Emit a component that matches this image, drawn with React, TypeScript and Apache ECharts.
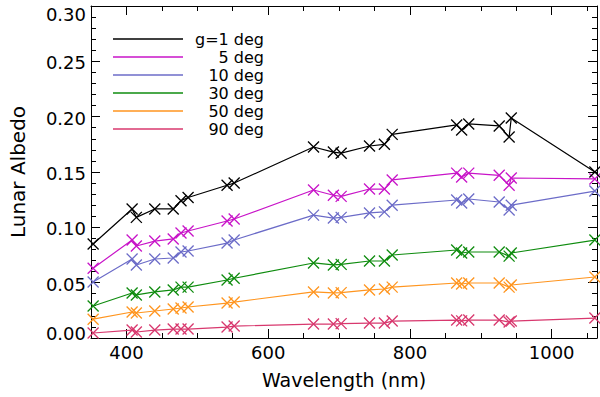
import React, { useEffect, useRef } from 'react';
import * as echarts from 'echarts';

const wavelengths = [353, 408, 414, 440, 466, 477, 487, 542, 552, 664, 692, 703, 743, 764, 775, 866, 873, 883, 926, 940, 943, 1061];

const albedoG1 = [0.085, 0.1166, 0.109, 0.1166, 0.1166, 0.124, 0.127, 0.138, 0.140, 0.1726, 0.168, 0.167, 0.1735, 0.175, 0.184, 0.1925, 0.188, 0.1934, 0.1916, 0.1816, 0.1988, 0.150];
const albedoG5 = [0.063, 0.0886, 0.0831, 0.0876, 0.0895, 0.0949, 0.0967, 0.1057, 0.1075, 0.1337, 0.129, 0.128, 0.1346, 0.1346, 0.1428, 0.149, 0.1455, 0.149, 0.147, 0.138, 0.1446, 0.1437];
const albedoG10 = [0.0506, 0.0714, 0.066, 0.0714, 0.0723, 0.0777, 0.0786, 0.0858, 0.0886, 0.111, 0.1084, 0.109, 0.113, 0.114, 0.120, 0.1247, 0.122, 0.1256, 0.1229, 0.1157, 0.120, 0.1328];
const albedoG30 = [0.0289, 0.0407, 0.0389, 0.0416, 0.0434, 0.046, 0.046, 0.0524, 0.054, 0.0678, 0.066, 0.0665, 0.0696, 0.0696, 0.075, 0.0795, 0.0768, 0.0777, 0.0777, 0.074, 0.0768, 0.0885];
const albedoG50 = [0.017, 0.0235, 0.0226, 0.0244, 0.0262, 0.0271, 0.028, 0.0316, 0.0325, 0.0416, 0.0407, 0.041, 0.0434, 0.0443, 0.046, 0.0497, 0.0488, 0.0497, 0.0497, 0.046, 0.0479, 0.0551];
const albedoG90 = [0.0045, 0.0072, 0.0054, 0.0072, 0.0081, 0.0081, 0.0081, 0.0099, 0.0108, 0.0126, 0.0126, 0.013, 0.0135, 0.0135, 0.0153, 0.0162, 0.0155, 0.0162, 0.0162, 0.0144, 0.0153, 0.018];

const seriesNames = ['g=1 deg', '5 deg', '10 deg', '30 deg', '50 deg', '90 deg'];
const seriesValues = [albedoG1, albedoG5, albedoG10, albedoG30, albedoG50, albedoG90];
const seriesColors = ['#000000', '#c814c8', '#6c6cc8', '#0f8c0f', '#ff951f', '#d8386e'];

const xTitle = 'Wavelength (nm)';
const yTitle = 'Lunar Albedo';

const FONT = 'DejaVu Sans';

export default function App() {
  const ref = useRef<HTMLDivElement>(null);
  useEffect(() => {
    document.body.style.margin = '0';
    const chart = echarts.init(ref.current!, null, { renderer: 'svg' });

    const axisLine = { show: true, onZero: false, lineStyle: { color: '#000', width: 1 } };
    const xBase: any = {
      type: 'value',
      min: 350,
      max: 1064,
      splitNumber: 4,
      minInterval: 200,
      maxInterval: 200,
      axisLine,
      axisTick: { show: true, inside: true, length: 9, lineStyle: { color: '#000', width: 1 } },
      minorTick: { show: true, splitNumber: 4, length: 5, lineStyle: { color: '#000', width: 1 } },
      splitLine: { show: false },
      minorSplitLine: { show: false },
    };
    const yBase: any = {
      type: 'value',
      min: 0,
      max: 0.3,
      interval: 0.05,
      axisLine,
      axisTick: { show: true, inside: true, length: 9, lineStyle: { color: '#000', width: 1 } },
      minorTick: { show: true, splitNumber: 5, length: 5, lineStyle: { color: '#000', width: 1 } },
      splitLine: { show: false },
      minorSplitLine: { show: false },
    };
    const labelFont = { fontFamily: FONT, fontSize: 18, color: '#000' };

    const symbol = 'path://M0,0L10,10M0,10L10,0';

    const option: any = {
      animation: false,
      backgroundColor: '#ffffff',
      grid: { left: 85, right: 3, top: 6, bottom: 59, containLabel: false },
      xAxis: [
        {
          ...xBase,
          position: 'bottom',
          name: xTitle,
          nameLocation: 'middle',
          nameGap: 32,
          nameTextStyle: { fontFamily: FONT, fontSize: 19, color: '#000' },
          axisLabel: {
            show: true,
            margin: 5,
            ...labelFont,
            formatter: (v: number) => (Math.abs(v % 200) < 1e-6 ? String(Math.round(v)) : ''),
          },
        },
        { ...xBase, position: 'top', axisLabel: { show: false } },
      ],
      yAxis: [
        {
          ...yBase,
          position: 'left',
          name: yTitle,
          nameLocation: 'middle',
          nameGap: 63,
          nameTextStyle: { fontFamily: FONT, fontSize: 20, color: '#000' },
          axisLabel: {
            show: true,
            margin: 5,
            ...labelFont,
            formatter: (v: number) => {
              const s = v.toFixed(2);
              if (Math.abs(v - 0.3) < 1e-6) return `{t|${s}}`;
              if (Math.abs(v) < 1e-6) return `{b|${s}}`;
              return `{n|${s}}`;
            },
            rich: {
              t: { ...labelFont, padding: [16, 0, 0, 0] },
              b: { ...labelFont, padding: [0, 0, 10, 0] },
              n: { ...labelFont, padding: [3, 0, 0, 0] },
            },
          },
        },
        { ...yBase, position: 'right', axisLabel: { show: false } },
      ],
      legend: {
        show: true,
        orient: 'vertical',
        left: 113,
        top: 31,
        padding: 0,
        itemGap: 2,
        itemWidth: 70,
        itemHeight: 1.5,
        icon: 'rect',
        itemStyle: { borderWidth: 0 },
        data: seriesNames,
        formatter: (name: string) => `{a|${name}}`,
        textStyle: {
          fontFamily: FONT,
          fontSize: 16,
          lineHeight: 16,
          rich: {
            a: { width: 76, align: 'right', fontFamily: FONT, fontSize: 16, color: '#000', lineHeight: 16 },
          },
        },
        textGap: 5,
        selectedMode: false,
      },
      series: seriesNames.map((name, i) => ({
        name,
        type: 'line',
        xAxisIndex: 0,
        yAxisIndex: 0,
        data: wavelengths.map((w, j) => [w, seriesValues[i][j]]),
        symbol,
        symbolSize: 11,
        showSymbol: true,
        lineStyle: { color: seriesColors[i], width: 1.2 },
        itemStyle: { color: seriesColors[i], borderColor: seriesColors[i], borderWidth: 1.3 },
        emphasis: { disabled: true },
        z: 10 - i,
      })),
    };
    chart.setOption(option);
    return () => chart.dispose();
  }, []);
  return <div ref={ref} style={{ width: 600, height: 397 }} />;
}
